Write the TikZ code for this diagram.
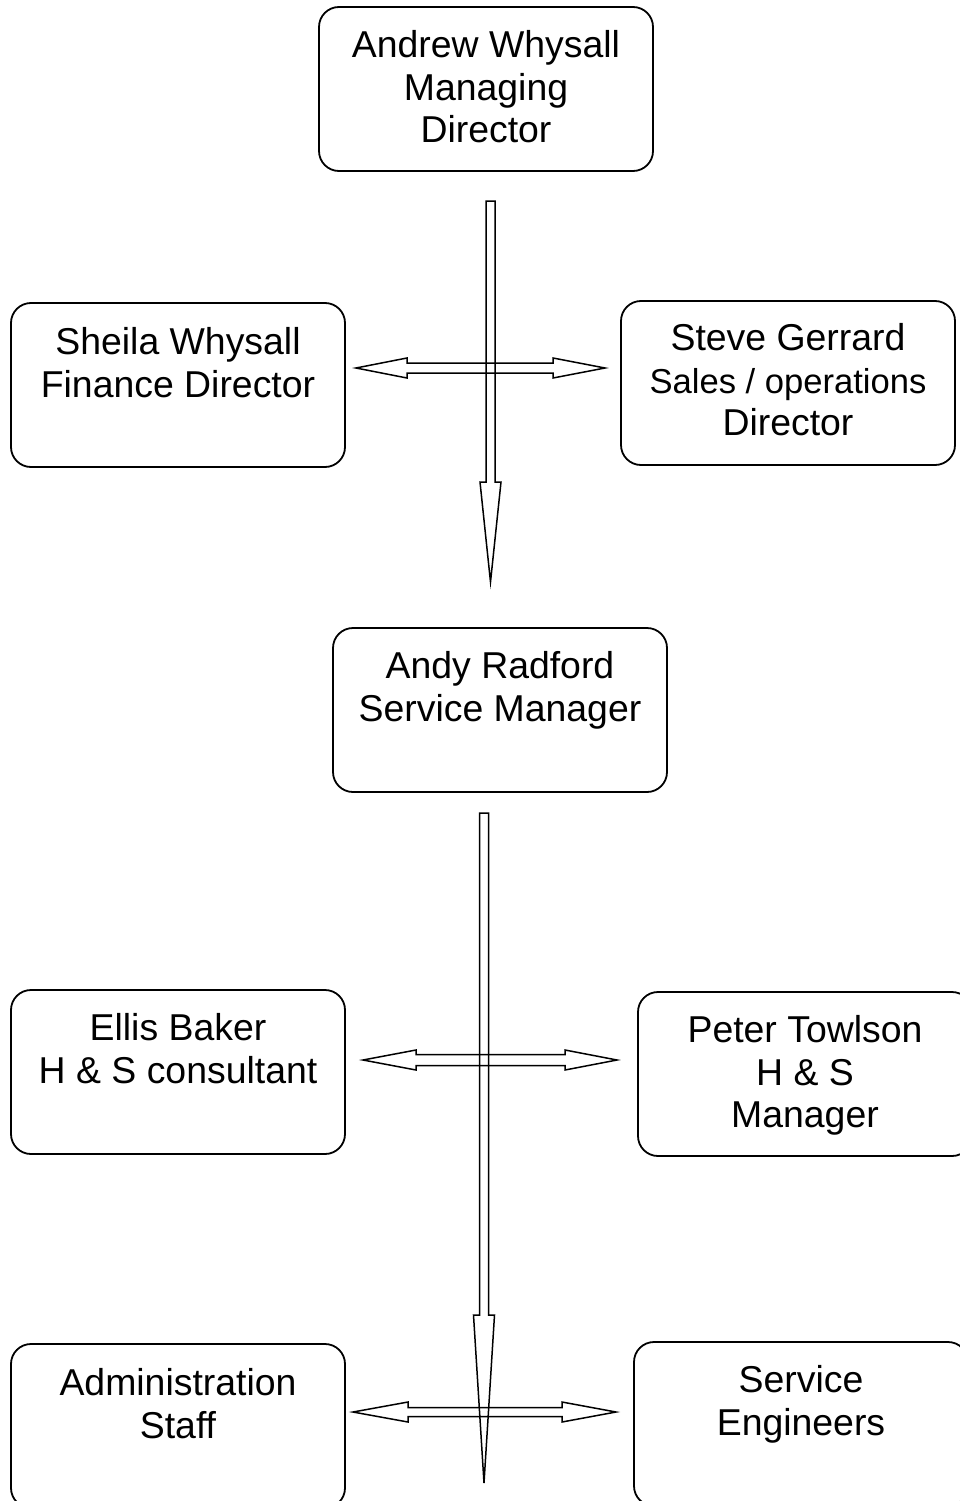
\documentclass[tikz,border=0pt]{standalone}
\usepackage{fontspec}
\setmainfont{Liberation Sans}
\begin{document}
\begin{tikzpicture}[x=1pt,y=-1pt,
  box/.style={draw, line width=1.8pt, rounded corners=20pt, minimum width=334pt, minimum height=164pt, inner sep=0pt},
  lbl/.style={anchor=north, inner sep=0pt, align=center, font=\fontsize{37.4}{42.3}\selectfont},
  blk/.style={draw, line width=1.5pt, line join=miter}]
\useasboundingbox (0,0) rectangle (960,1501);
\clip (0,0) rectangle (960,1501);

% boxes
\node[box] (md) at (486,89) {};
\node[box] (fd) at (178,385) {};
\node[box] (sd) at (788,383) {};
\node[box] (sm) at (500,710) {};
\node[box] (hc) at (178,1072) {};
\node[box] (hm) at (805,1074) {};
\node[box] (ad) at (178,1426) {};
\node[box] (se) at (801,1424) {};

% labels
\node[lbl] (mdt) at ([yshift=-24.5pt]md.north) {Andrew Whysall\\Managing\\Director};
\node[lbl] (fdt) at ([yshift=-25.5pt]fd.north) {Sheila Whysall\\Finance Director};
\node[lbl] (sdt) at ([yshift=-23.5pt]sd.north) {Steve Gerrard\\{\fontsize{34.6}{42.3}\selectfont Sales / operations}\\Director};
\node[lbl] (smt) at ([yshift=-24.5pt]sm.north) {Andy Radford\\Service Manager};
\node[lbl] (hct) at ([yshift=-24.5pt]hc.north) {Ellis Baker\\H \& S consultant};
\node[lbl] (hmt) at ([yshift=-24.5pt]hm.north) {Peter Towlson\\H \& S\\Manager};
\node[lbl] (adt) at ([yshift=-25.5pt]ad.north) {Administration\\Staff};
\node[lbl] (set) at ([yshift=-24.5pt]se.north) {Service\\Engineers};

% block arrows
\newcommand\vblock[5]{% x, ytop, ybase, ytip, shaft half width
  \draw[blk] (#1-#5,#2) -- (#1+#5,#2) -- (#1+#5,#3) -- (#1+10.5,#3) -- (#1,#4)
    -- (#1-10.5,#3) -- (#1-#5,#3) -- cycle;}
\newcommand\hblock[6]{% yc, left tip, left base, right base, right tip, shaft half
  \draw[blk] (#2,#1) -- (#3,#1-10) -- (#3,#1-#6) -- (#4,#1-#6) -- (#4,#1-10) -- (#5,#1)
    -- (#4,#1+10) -- (#4,#1+#6) -- (#3,#1+#6) -- (#3,#1+10) -- cycle;}

\vblock{490.5}{201}{482}{582}{4.5}
\hblock{368}{356}{407}{553}{605}{5}
\vblock{484}{813}{1315}{1483}{4.5}
\hblock{1060}{363}{416}{565}{617}{5.5}
\hblock{1412}{353}{408}{562}{616}{4.5}
\end{tikzpicture}
\end{document}
